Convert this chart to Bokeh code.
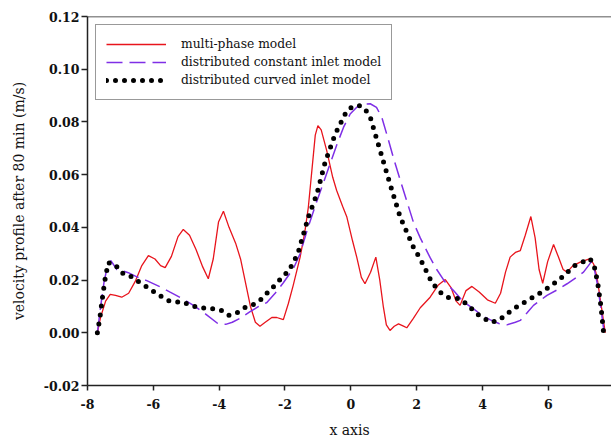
from bokeh.plotting import figure
from bokeh.models import FixedTicker, NumeralTickFormatter, Span, Legend, LegendItem
from bokeh.embed import file_html
from bokeh.resources import INLINE

# multi-phase model (red solid)
mp_x = [-7.70, -7.60, -7.45, -7.31, -7.15, -6.96, -6.75, -6.55, -6.35, -6.15, -5.95, -5.78, -5.64,
        -5.45, -5.25, -5.09, -4.90, -4.70, -4.50, -4.33, -4.18, -4.02, -3.87, -3.70, -3.50, -3.35,
        -3.20, -3.05, -2.90, -2.76, -2.60, -2.40, -2.25, -2.05, -1.90, -1.75, -1.54, -1.40, -1.29,
        -1.18, -1.08, -1.00, -0.90, -0.73, -0.55, -0.43, -0.25, -0.12, 0.05, 0.18, 0.32, 0.43,
        0.60, 0.76, 0.88, 0.99, 1.08, 1.19, 1.32, 1.45, 1.60, 1.70, 1.90, 2.11, 2.41, 2.65, 2.87,
        3.05, 3.20, 3.32, 3.50, 3.68, 3.90, 4.15, 4.39, 4.55, 4.70, 4.84, 5.00, 5.15, 5.30, 5.47,
        5.60, 5.72, 5.83, 5.98, 6.16, 6.30, 6.45, 6.57, 6.75, 6.97, 7.27, 7.38, 7.48, 7.60, 7.73]
mp_y = [0.000, 0.006, 0.012, 0.0146, 0.0142, 0.0135, 0.0150, 0.0195, 0.0255, 0.0293, 0.0280, 0.0255, 0.0247,
        0.0290, 0.0365, 0.0392, 0.0370, 0.0315, 0.0250, 0.0205, 0.0280, 0.0420, 0.0461, 0.0400, 0.0340, 0.0280,
        0.0190, 0.0100, 0.0040, 0.0025, 0.0040, 0.0058, 0.0058, 0.0050, 0.0110, 0.0180, 0.0287, 0.0380, 0.0477,
        0.0620, 0.0750, 0.0786, 0.0770, 0.0690, 0.0590, 0.0540, 0.0480, 0.0439, 0.0350, 0.0287, 0.0210, 0.0186,
        0.0230, 0.0287, 0.0200, 0.0097, 0.0030, 0.0009, 0.0025, 0.0034, 0.0025, 0.0019, 0.0055, 0.0095, 0.0135, 0.0180, 0.0202,
        0.0170, 0.0120, 0.0104, 0.0160, 0.0176, 0.0155, 0.0125, 0.0112, 0.0150, 0.0230, 0.0287, 0.0305, 0.0312, 0.0370, 0.0441,
        0.0360, 0.0240, 0.0188, 0.0270, 0.0335, 0.0290, 0.0240, 0.0230, 0.0255, 0.0268, 0.0281, 0.0260, 0.0211, 0.0110, 0.000]

# distributed constant inlet model (purple dashed)
dc_x = [-7.70, -7.60, -7.50, -7.40, -7.29, -7.11, -6.96, -6.76, -6.50, -6.20, -5.80, -5.49, -5.10, -4.78,
        -4.40, -4.02, -3.80, -3.60, -3.36, -3.06, -2.80, -2.55, -2.30, -2.05, -1.74, -1.54, -1.30, -1.03,
        -0.83, -0.63, -0.42, -0.22, -0.02, 0.18, 0.40, 0.59, 0.78, 0.94, 1.10, 1.29, 1.50, 1.70, 1.90,
        2.11, 2.41, 2.61, 2.85, 3.12, 3.40, 3.73, 4.00, 4.24, 4.50, 4.74, 5.00, 5.15, 5.35, 5.55, 5.96,
        6.30, 6.57, 6.85, 7.07, 7.30, 7.40, 7.50, 7.60, 7.71]
dc_y = [0.000, 0.010, 0.019, 0.025, 0.0274, 0.0240, 0.0236, 0.0228, 0.0212, 0.0198, 0.0175, 0.0154, 0.0128, 0.0104,
        0.0070, 0.0033, 0.0032, 0.0040, 0.0055, 0.0080, 0.0100, 0.0115, 0.0150, 0.0190, 0.0245, 0.0300, 0.0400, 0.0500,
        0.0570, 0.0641, 0.0715, 0.0780, 0.0830, 0.0856, 0.0868, 0.0869, 0.0855, 0.0818, 0.0750, 0.0666, 0.0580, 0.0500, 0.0420,
        0.0360, 0.0285, 0.0240, 0.0195, 0.0160, 0.0120, 0.0091, 0.0065, 0.0049, 0.0035, 0.0030, 0.0040, 0.0047, 0.0075, 0.0104, 0.0142,
        0.0165, 0.0186, 0.0210, 0.0230, 0.0268, 0.0240, 0.0180, 0.0090, -0.001]

# distributed curved inlet model (black dotted)
dv_x = [-7.70, -7.62, -7.55, -7.47, -7.37, -7.16, -6.98, -6.76, -6.50, -6.27, -6.03, -5.80, -5.57, -5.34,
        -5.11, -4.86, -4.63, -4.40, -4.18, -3.94, -3.71, -3.47, -3.23, -3.00, -2.76, -2.55, -2.31, -2.10,
        -1.88, -1.61, -1.29, -1.03, -0.78, -0.47, -0.12, 0.08, 0.28, 0.45, 0.59, 0.89, 1.19, 1.50, 1.90,
        2.11, 2.46, 2.70, 2.92, 3.32, 3.60, 3.83, 4.24, 4.49, 4.94, 5.40, 5.85, 6.34, 6.80, 7.27, 7.40,
        7.50, 7.60, 7.68]
dv_y = [0.000, 0.006, 0.013, 0.020, 0.0266, 0.0259, 0.0228, 0.0221, 0.0198, 0.0180, 0.0160, 0.0141, 0.0123, 0.0117,
        0.0117, 0.0103, 0.0097, 0.0093, 0.0091, 0.0085, 0.0066, 0.0075, 0.0095, 0.0104, 0.0123, 0.0150, 0.0180, 0.0209,
        0.0236, 0.0300, 0.0439, 0.0527, 0.0647, 0.0755, 0.0843, 0.0860, 0.0862, 0.0845, 0.0818, 0.0692, 0.0565, 0.0439, 0.0325,
        0.0280, 0.0192, 0.0155, 0.0135, 0.0129, 0.0100, 0.0072, 0.0040, 0.0047, 0.0091, 0.0125, 0.0158, 0.0202, 0.0255, 0.0281, 0.0250,
        0.0190, 0.0100, 0.000]

x_ticks = [-8, -6, -4, -2, 0, 2, 4, 6, 8]
y_ticks = [-0.02, 0.0, 0.02, 0.04, 0.06, 0.08, 0.10, 0.12]
y_tick_labels = {-0.02: "-0.02", 0.0: "0.00", 0.02: "0.02", 0.04: "0.04", 0.06: "0.06",
                 0.08: "0.08", 0.10: "0.10", 0.12: "0.12"}
x_tick_labels = {-8: "-8", -6: "-6", -4: "-4", -2: "-2", 0: "0", 2: "2", 4: "4", 6: "6", 8: "8"}

SERIF = "DejaVu Serif"

p = figure(width=611, height=444, output_backend="svg", toolbar_location=None,
           x_range=(-8, 7.92), y_range=(-0.02, 0.12),
           min_border_left=87, min_border_right=0, min_border_top=16, min_border_bottom=59)
p.outline_line_color = None
p.xgrid.visible = False
p.ygrid.visible = False
p.background_fill_color = "white"
p.border_fill_color = "white"

r1 = p.line(mp_x, mp_y, line_color="#e8141c", line_width=1.3)
r2 = p.line(dc_x, dc_y, line_color="#7f2fe6", line_width=1.5, line_dash="16 7")
r3 = p.line(dv_x, dv_y, line_color="black", line_width=5, line_dash="0 9", line_cap="round")

p.add_layout(Span(location=0.12, dimension="width", line_color="#222222", line_width=1.5))

for ax in (p.xaxis[0], p.yaxis[0]):
    ax.axis_line_color = "#222222"
    ax.axis_line_width = 1.5
    ax.major_tick_line_color = "#222222"
    ax.major_tick_line_width = 1.5
    ax.major_tick_in = 0
    ax.minor_tick_line_color = None
    ax.major_label_text_font = SERIF
    ax.major_label_text_font_style = "bold"
    ax.major_label_text_font_size = "12.5px"
    ax.major_label_text_color = "#111111"
    ax.axis_label_text_font = SERIF
    ax.axis_label_text_font_style = "normal"
    ax.axis_label_text_font_size = "14px"
    ax.axis_label_text_color = "#111111"

p.xaxis.ticker = FixedTicker(ticks=x_ticks)
p.yaxis.ticker = FixedTicker(ticks=y_ticks)
p.xaxis.major_label_overrides = x_tick_labels
p.yaxis.major_label_overrides = y_tick_labels
p.yaxis.formatter = NumeralTickFormatter(format="0.00")
p.xaxis.major_tick_out = 5
p.yaxis.major_tick_out = 6
p.xaxis.major_label_standoff = 8
p.yaxis.major_label_standoff = 2
p.xaxis.axis_label = "x axis"
p.yaxis.axis_label = "velocity profile after 80 min (m/s)"
p.xaxis.axis_label_standoff = 10
p.yaxis.axis_label_standoff = 14

legend = Legend(items=[
    LegendItem(label="multi-phase model", renderers=[r1]),
    LegendItem(label="distributed constant inlet model", renderers=[r2]),
    LegendItem(label="distributed curved inlet model", renderers=[r3]),
], location="top_left")
legend.margin = 8
legend.padding = 10
legend.spacing = 0
legend.glyph_width = 60
legend.glyph_height = 18
legend.label_height = 18
legend.label_standoff = 15
legend.label_text_font = SERIF
legend.label_text_font_size = "12.3px"
legend.label_text_color = "#111111"
legend.border_line_color = "#333333"
legend.border_line_width = 1.2
legend.background_fill_alpha = 1.0
p.add_layout(legend)

open("out.html", "w").write(file_html(p, INLINE))
